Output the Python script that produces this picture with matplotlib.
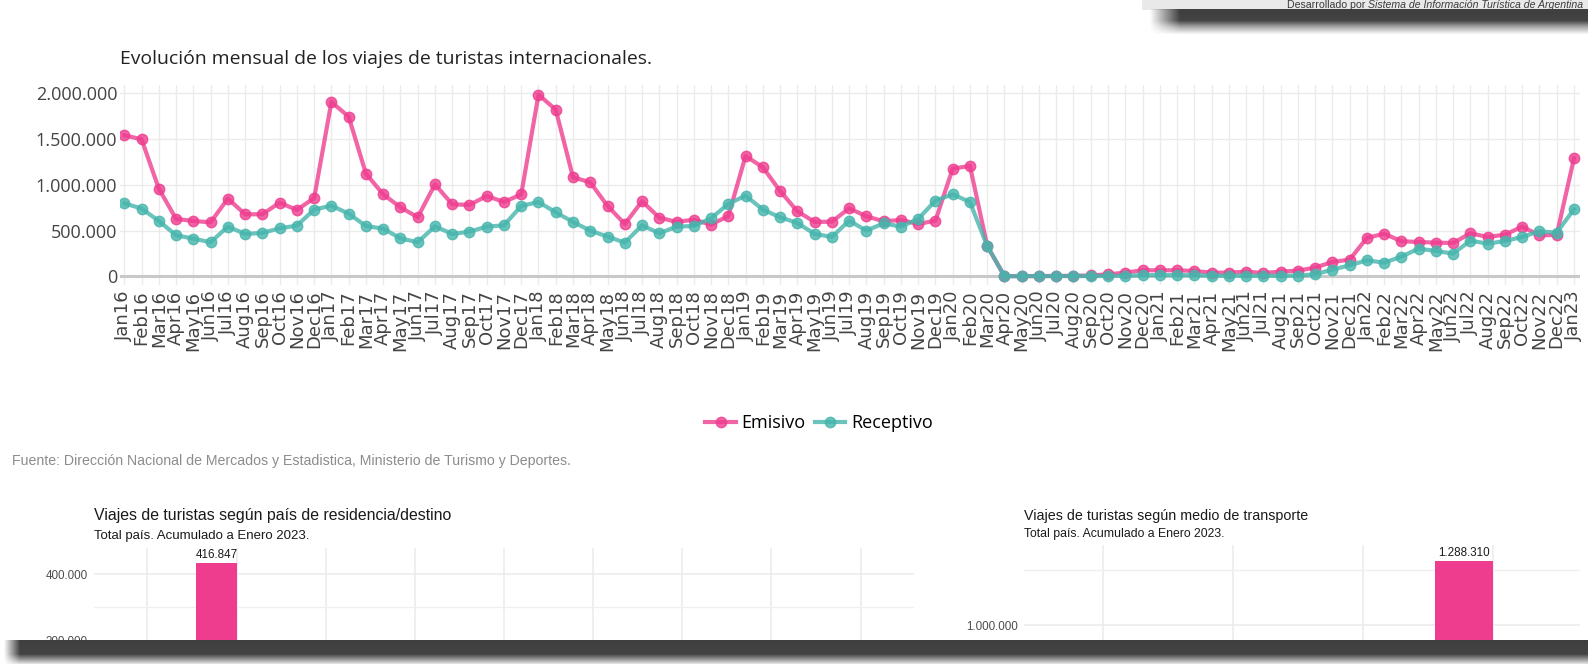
import numpy as np
import matplotlib
matplotlib.use("Agg")
import matplotlib.pyplot as plt
from matplotlib.lines import Line2D

# ---------------- data ----------------
month_abbr = ["Jan", "Feb", "Mar", "Apr", "May", "Jun", "Jul", "Aug", "Sep", "Oct", "Nov", "Dec"]
years = ["16", "17", "18", "19", "20", "21", "22"]
month_labels = [m + y for y in years for m in month_abbr] + ["Jan23"]

emisivo = [
    1541000, 1497000, 958000, 627000, 605000, 590000, 849000, 678000, 678000, 805000, 725000, 856000,
    1905000, 1745000, 1122000, 896000, 754000, 645000, 1005000, 787000, 780000, 878000, 812000, 896000,
    1985000, 1821000, 1082000, 1027000, 769000, 572000, 820000, 641000, 594000, 619000, 565000, 659000,
    1315000, 1191000, 933000, 710000, 594000, 597000, 743000, 656000, 601000, 616000, 572000, 608000,
    1177000, 1206000, 332000, 2000, 2500, 3000, 4000, 6000, 9000, 22000, 40000, 66000,
    66000, 66000, 58000, 40000, 40000, 51000, 36000, 51000, 62000, 95000, 157000, 182000,
    419000, 466000, 383000, 375000, 368000, 364000, 470000, 430000, 455000, 543000, 448000, 452000,
    1288310,
]
receptivo = [
    798000, 740000, 605000, 448000, 412000, 372000, 543000, 463000, 474000, 525000, 554000, 729000,
    772000, 685000, 550000, 521000, 415000, 372000, 546000, 463000, 488000, 543000, 557000, 769000,
    812000, 699000, 594000, 499000, 434000, 368000, 557000, 470000, 543000, 550000, 634000, 791000,
    882000, 729000, 645000, 583000, 463000, 430000, 608000, 499000, 579000, 543000, 627000, 827000,
    896000, 812000, 332000, 1000, 1500, 2000, 2000, 2500, 3000, 4000, 6000, 12000,
    14000, 13000, 12000, 8000, 6000, 7000, 6000, 7000, 8000, 22000, 73000, 120000,
    175000, 149000, 215000, 302000, 277000, 248000, 390000, 357000, 386000, 430000, 492000, 477000,
    732000,
]
series_names = ["Emisivo", "Receptivo"]
series_colors = ["#EE3D8F", "#45B5AC"]

# lower panels (only the visible part of the cropped screenshot; hidden bars = NaN)
pais_n_categorias = 9
pais_emisivo = [np.nan, 416847, np.nan, np.nan, np.nan, np.nan, np.nan, np.nan, np.nan]
transporte_n_categorias = 4
transporte_emisivo = [np.nan, np.nan, np.nan, 1288310]

main_title = "Evolución mensual de los viajes de turistas internacionales."
fuente = "Fuente: Dirección Nacional de Mercados y Estadistica, Ministerio de Turismo y Deportes."
pais_title = "Viajes de turistas según país de residencia/destino"
transp_title = "Viajes de turistas según medio de transporte"
subtitle = "Total país. Acumulado a Enero 2023."
credit_plain = "Desarrollado por "
credit_italic = "Sistema de Información Turística de Argentina"

# ---------------- figure ----------------
W, H, DPI = 1588, 664, 100
fig = plt.figure(figsize=(W / DPI, H / DPI), dpi=DPI)
fig.patch.set_facecolor("white")


def ax_px(x0, y0, x1, y1, **kw):
    return fig.add_axes([x0 / W, 1 - y1 / H, (x1 - x0) / W, (y1 - y0) / H], **kw)


def fy(y):
    return 1 - y / H


def fmt_dots(v):
    return f"{int(round(v)):,}".replace(",", ".")


GRID = "#ebebeb"

# ---------------- main line chart ----------------
ax = ax_px(120, 85, 1580, 285)
x = np.arange(len(month_labels))
for s in ax.spines.values():
    s.set_visible(False)
ax.set_xticks(x)
ax.set_xticklabels(month_labels, rotation=90, fontsize=13, family="DejaVu Sans", color="#444444")
yt = [0, 500000, 1000000, 1500000, 2000000]
ax.set_yticks(yt)
ax.set_yticklabels([fmt_dots(v) for v in yt], fontsize=13, family="Open Sans", color="#444444")
ax.tick_params(axis="both", length=0)
ax.tick_params(axis="x", pad=4)
ax.tick_params(axis="y", pad=2)
ax.grid(True, color=GRID, lw=1.0, zorder=0)
ax.set_axisbelow(True)
ax.axhline(0, color="#c9c9c9", lw=2.2, zorder=1)
for vals, name, col in zip([emisivo, receptivo], series_names, series_colors):
    ax.plot(x, vals, color=col, alpha=0.8, lw=3.0, marker="o", ms=7.5,
            mec=col, mfc=col, zorder=3, solid_joinstyle="round")
ax.set_xlim(-0.25, 84.35)
ax.set_ylim(-95000, 2090700)

t_title = fig.text(119.5 / W, fy(58.5), main_title, fontsize=13, family="Open Sans",
                   color="#222222", va="center", ha="left")

handles = [Line2D([], [], color=c, alpha=0.8, lw=3.0, marker="o", ms=7.5, mec=c, mfc=c)
           for c in series_colors]
leg = fig.legend(handles, series_names, loc="center", bbox_to_anchor=(819 / W, fy(423.5)),
                 ncol=2, frameon=False, prop={"family": "Open Sans", "size": 13},
                 handlelength=1.7, handletextpad=0.3, columnspacing=0.5)

t_fuente = fig.text(11.5 / W, fy(461), fuente, fontsize=10.5, family="Liberation Sans",
                    color="#8c8c8c", va="center", ha="left")

# ---------------- lower-left bar panel ----------------
BAR = "#EE3D8F"
axl = ax_px(94, 548, 914, 642)
for s in axl.spines.values():
    s.set_visible(False)
axl.set_xticks(np.arange(1, pais_n_categorias + 1))
axl.set_xticklabels([])
axl.set_yticks([300000, 400000])
axl.set_yticklabels([fmt_dots(v) for v in [300000, 400000]], fontsize=8.4,
                    family="Liberation Sans", color="#4d4d4d")
axl.set_yticks([350000], minor=True)
axl.tick_params(axis="both", which="both", length=0)
axl.tick_params(axis="y", pad=4.3)
axl.grid(True, which="major", color=GRID, lw=1.1)
axl.grid(True, which="minor", axis="y", color="#efefef", lw=0.9)
axl.set_axisbelow(True)
cats = np.arange(1, pais_n_categorias + 1)
vals = np.array(pais_emisivo, dtype=float)
axl.bar(cats - 0.225, np.nan_to_num(vals, nan=0), width=0.45, color=BAR, zorder=2)
for c, v in zip(cats, vals):
    if np.isfinite(v):
        axl.annotate(fmt_dots(v), (c - 0.225, v), xytext=(0, 1.5), textcoords="offset points",
                     ha="center", va="bottom", fontsize=8.4, family="Liberation Sans",
                     color="#1a1a1a", annotation_clip=False)
axl.set_xlim(0.4, pais_n_categorias + 0.6)
axl.set_ylim(298204, 438922)

t_pt = fig.text(94 / W, fy(515.7), pais_title, fontsize=10.5, family="Liberation Sans",
                color="#1a1a1a", va="center", ha="left")
t_ps = fig.text(94 / W, fy(536.5), subtitle, fontsize=8.6, family="Liberation Sans",
                color="#1a1a1a", va="center", ha="left")

# ---------------- lower-right bar panel ----------------
axr = ax_px(1024, 545, 1580, 640)
for s in axr.spines.values():
    s.set_visible(False)
axr.set_xticks(np.arange(1, transporte_n_categorias + 1))
axr.set_xticklabels([])
axr.set_yticks([1000000, 1500000])
axr.set_yticklabels([fmt_dots(v) for v in [1000000, 1500000]], fontsize=8.4,
                    family="Liberation Sans", color="#4d4d4d")
axr.set_yticks([1250000], minor=True)
axr.tick_params(axis="both", which="both", length=0)
axr.tick_params(axis="y", pad=4.3)
axr.grid(True, which="major", color=GRID, lw=1.1)
axr.grid(True, which="minor", axis="y", color="#efefef", lw=0.9)
axr.set_axisbelow(True)
cats_r = np.arange(1, transporte_n_categorias + 1)
vals_r = np.array(transporte_emisivo, dtype=float)
axr.bar(cats_r - 0.225, np.nan_to_num(vals_r, nan=0), width=0.45, color=BAR, zorder=2)
for c, v in zip(cats_r, vals_r):
    if np.isfinite(v):
        axr.annotate(fmt_dots(v), (c - 0.225, v), xytext=(0, 1.5), textcoords="offset points",
                     ha="center", va="bottom", fontsize=8.4, family="Liberation Sans",
                     color="#1a1a1a", annotation_clip=False)
axr.set_xlim(0.39, 4.67)
axr.set_ylim(933036, 1361607)

t_rt = fig.text(1024 / W, fy(515.7), transp_title, fontsize=10.5, family="Liberation Sans",
                color="#1a1a1a", va="center", ha="left")
t_rs = fig.text(1024 / W, fy(533.5), subtitle, fontsize=8.3, family="Liberation Sans",
                color="#1a1a1a", va="center", ha="left")

# ---------------- screenshot frame decorations (overlay) ----------------
ov = fig.add_axes([0, 0, 1, 1], zorder=10)
ov.axis("off")
ov.patch.set_alpha(0)

# top-right grey strip with credit text
ov.fill_between([1142, W], 0, 9.5, color="#e9e9e9", lw=0, zorder=1)
t_cred = ov.text(1583, 8.3, credit_plain + credit_italic, fontsize=8, family="Liberation Sans",
                 color="#3a3a3a", ha="right", va="baseline", zorder=2)


def shadow(x0, x1, y0, y1, prof_y, fade_x, color=(0.22, 0.22, 0.22)):
    nx, ny = int(x1 - x0), int(y1 - y0)
    xs = np.arange(nx) + 0.5
    ys = np.arange(ny) + 0.5
    ay = np.interp(ys, *prof_y)
    ax_ = np.clip(xs / fade_x, 0, 1)
    a = ay[:, None] * ax_[None, :]
    img = np.zeros((ny, nx, 4))
    img[..., 0], img[..., 1], img[..., 2] = color
    img[..., 3] = a
    ov.imshow(img, extent=(x0, x1, y1, y0), interpolation="bilinear", zorder=3, aspect="auto")


# top shadow under the strip
shadow(1150, W, 9.5, 34, ([0, 2, 11, 17, 24.5], [0.95, 0.97, 0.95, 0.45, 0.0]), 30)
# bottom band
ov.fill_between([0, W], 640, H, color="white", lw=0, zorder=2)
shadow(4, W, 640, H, ([0, 14, 19, 24], [0.97, 0.95, 0.55, 0.12]), 16)

ov.set_xlim(0, W)
ov.set_ylim(H, 0)

# ---- fit text widths to the measured reference widths ----
fig.canvas.draw()
r = fig.canvas.get_renderer()


def fit(t, target):
    w = t.get_window_extent(r).width
    t.set_fontsize(t.get_fontsize() * target / w)


fit(t_title, 530)
fit(t_fuente, 561)
fit(t_pt, 362)
fit(t_ps, 215)
fit(t_rt, 284)
fit(t_rs, 200)
fit(t_cred, 298)
fig.canvas.draw()

# credit as two pieces (plain + italic) at the fitted size
fs = t_cred.get_fontsize()
t_cred.set_visible(False)
t_it = ov.text(1583, 8.3, credit_italic, fontsize=fs, family="Liberation Sans", style="italic",
               color="#3a3a3a", ha="right", va="baseline", zorder=2)
fig.canvas.draw()
bb = t_it.get_window_extent(r)
ov.text(bb.x0, 8.3, credit_plain, fontsize=fs, family="Liberation Sans",
        color="#3a3a3a", ha="right", va="baseline", zorder=2)

fig.savefig("out.png", dpi=DPI, facecolor="white")
